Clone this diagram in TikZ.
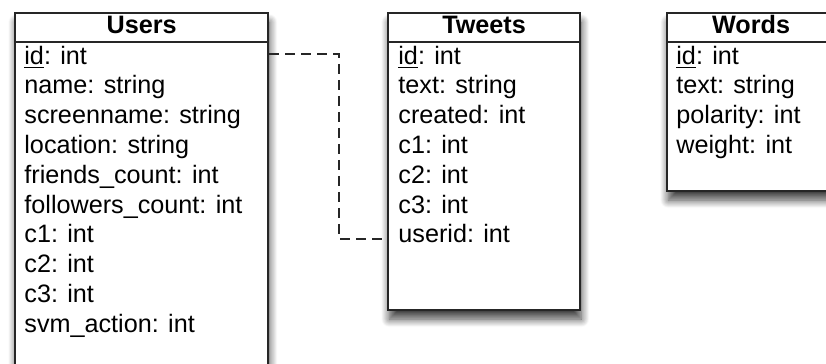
\documentclass[tikz,border=0pt]{standalone}
\usepackage{fontspec}
\setmainfont{Liberation Sans}
\usetikzlibrary{shadows.blur}

\tikzset{
  tbl/.style={draw=black!85, line width=1.1pt, fill=white, inner sep=0pt,
    anchor=north west,
    blur shadow={shadow xshift=0.6pt, shadow yshift=-4.5pt,
      shadow blur radius=4pt, shadow blur steps=12, shadow opacity=75}},
  rule/.style={draw=black!85, line width=1.1pt},
  title/.style={font=\fontsize{12.6pt}{14.9pt}\selectfont\bfseries,
    anchor=base, inner sep=0pt, text=black},
  row/.style={font=\fontsize{12.6pt}{14.9pt}\selectfont,
    anchor=base west, inner sep=0pt, text=black},
  link/.style={draw=black!85, line width=0.75pt, dash pattern=on 5pt off 3pt}
}

\begin{document}
\begin{tikzpicture}[x=0.5pt, y=-0.5pt]
  \useasboundingbox (0,0) rectangle (826,364);
  \clip (0,0) rectangle (826,364);

  % table frames
  \node[tbl, minimum width=126.5pt, minimum height=194pt] (users) at (14,12) {};
  \node[tbl, minimum width=96pt, minimum height=148.5pt] (tweets) at (387,12) {};
  \node[tbl, minimum width=84pt, minimum height=89pt] (words) at (666,12) {};

  % header separators
  \foreach \t in {users,tweets,words}
    \draw[rule] ([yshift=-15pt]\t.north west) -- ([yshift=-15pt]\t.north east);

  % titles
  \node[title] (users-t) at ([yshift=-10.5pt]users.north) {Users};
  \node[title] (tweets-t) at ([yshift=-10.5pt]tweets.north) {Tweets};
  \node[title] (words-t) at ([yshift=-10.5pt]words.north) {Words};

  % Users columns
  \node[row] (u1) at ([xshift=5pt, yshift=-26pt]users.north west) {\underline{id}: int};
  \node[row] (u2) at ([yshift=-14.9pt]u1.base west) {name: string};
  \node[row] (u3) at ([yshift=-14.9pt]u2.base west) {screenname: string};
  \node[row] (u4) at ([yshift=-14.9pt]u3.base west) {location: string};
  \node[row] (u5) at ([yshift=-14.9pt]u4.base west) {friends\_count: int};
  \node[row] (u6) at ([yshift=-14.9pt]u5.base west) {followers\_count: int};
  \node[row] (u7) at ([yshift=-14.9pt]u6.base west) {c1: int};
  \node[row] (u8) at ([yshift=-14.9pt]u7.base west) {c2: int};
  \node[row] (u9) at ([yshift=-14.9pt]u8.base west) {c3: int};
  \node[row] (u10) at ([yshift=-14.9pt]u9.base west) {svm\_action: int};

  % Tweets columns
  \node[row] (t1) at ([xshift=5.5pt, yshift=-26pt]tweets.north west) {\underline{id}: int};
  \node[row] (t2) at ([yshift=-14.9pt]t1.base west) {text: string};
  \node[row] (t3) at ([yshift=-14.9pt]t2.base west) {created: int};
  \node[row] (t4) at ([yshift=-14.9pt]t3.base west) {c1: int};
  \node[row] (t5) at ([yshift=-14.9pt]t4.base west) {c2: int};
  \node[row] (t6) at ([yshift=-14.9pt]t5.base west) {c3: int};
  \node[row] (t7) at ([yshift=-14.9pt]t6.base west) {userid: int};

  % Words columns
  \node[row] (w1) at ([xshift=5pt, yshift=-26pt]words.north west) {\underline{id}: int};
  \node[row] (w2) at ([yshift=-14.9pt]w1.base west) {text: string};
  \node[row] (w3) at ([yshift=-14.9pt]w2.base west) {polarity: int};
  \node[row] (w4) at ([yshift=-14.9pt]w3.base west) {weight: int};

  % foreign key: Tweets.userid -> Users.id
  \coordinate (fk-src) at (users.east |- u1.center);
  \coordinate (fk-dst) at (tweets.west |- t7.center);
  \draw[link] ([yshift=1.5pt]fk-src) -- ++(35pt,0) |- ([yshift=-2.5pt]fk-dst);
\end{tikzpicture}
\end{document}
